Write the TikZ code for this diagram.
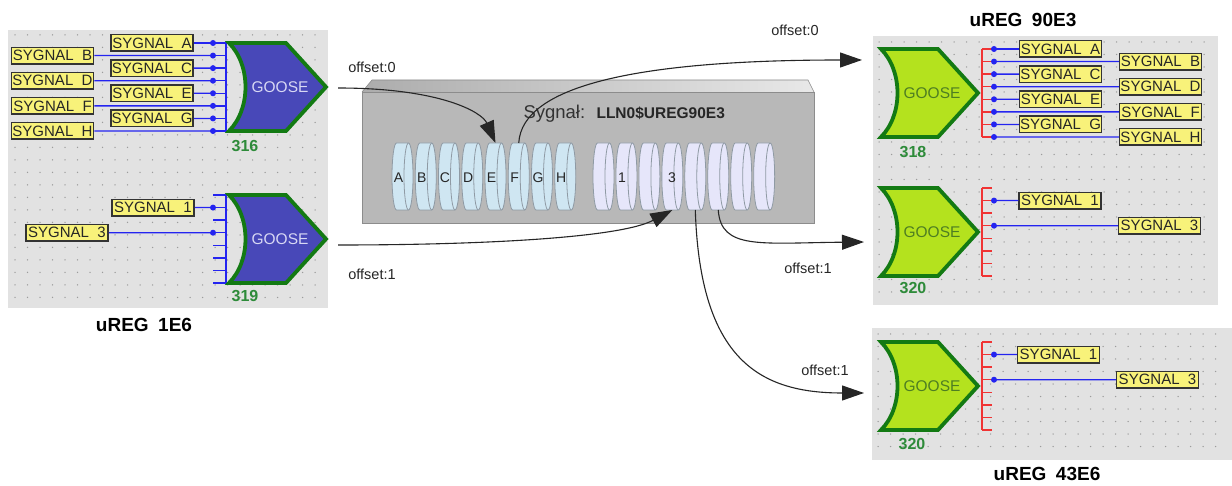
\documentclass[tikz,border=0pt]{standalone}
\usepackage{fontspec}
\setmainfont{Liberation Sans}
\usetikzlibrary{arrows.meta,calc}

\definecolor{panelbg}{HTML}{E2E2E2}
\definecolor{griddot}{HTML}{9C9C9C}
\definecolor{wireblue}{HTML}{2424F0}
\definecolor{tickred}{HTML}{F03434}
\definecolor{labelfill}{HTML}{F8F27A}
\definecolor{labeledge}{HTML}{333333}
\definecolor{gateblue}{HTML}{4848B8}
\definecolor{gatelime}{HTML}{B4E21E}
\definecolor{gateedge}{HTML}{137A13}
\definecolor{gooseblue}{HTML}{D8D8F4}
\definecolor{gooselime}{HTML}{4E7E22}
\definecolor{idgreen}{HTML}{2E8B3A}
\definecolor{boxface}{HTML}{B8B8B8}
\definecolor{boxedge}{HTML}{8C8C8C}
\definecolor{diskblue}{HTML}{CFE6F2}
\definecolor{disklav}{HTML}{E6E6FA}
\definecolor{diskedge}{HTML}{8F9AA4}

\tikzset{
  panel/.style={fill=panelbg, draw=none, inner sep=0pt, outer sep=0pt, anchor=north west},
  sig/.style={draw=labeledge, line width=1.5pt, fill=labelfill, minimum width=82pt,
    minimum height=16.5pt, inner sep=0pt, font=\fontsize{15}{15}\selectfont, text=black!85},
  wire/.style={draw=wireblue, line width=1.3pt},
  redtick/.style={draw=tickred, line width=1.3pt},
  pin/.style={circle, fill=wireblue, inner sep=0pt, minimum size=6pt},
  gateline/.style={draw=gateedge, line width=3.8pt, line join=miter},
  conn/.style={draw=black!85, line width=1.1pt, -{Triangle[length=22pt,width=15pt]}},
  offs/.style={font=\fontsize{14.5}{15}\selectfont, text=black!85},
  title/.style={font=\bfseries\fontsize{19}{19}\selectfont},
  gid/.style={font=\bfseries\fontsize{16}{16}\selectfont, text=idgreen},
  diskslot/.style={minimum width=21pt, minimum height=67pt, inner sep=0pt, outer sep=0pt},
  disk/.style={draw=diskedge, line width=0.8pt},
  disktext/.style={font=\fontsize{14}{14}\selectfont, text=black!85},
  pics/goose/.style 2 args={code={
    \draw[gateline, fill=#1] (0,0) -- (57,0) -- (97,44) -- (57,88) -- (0,88)
      .. controls (22,66) and (22,22) .. (0,0) -- cycle;
    \node[text=#2, font=\fontsize{15.5}{16}\selectfont] (-txt) at (51,44) {GOOSE};
    \coordinate (-tip) at (97,44);
  }}
}

% one storage disk: name, centre x, fill colour
\newcommand\gdisk[3]{%
  \node[diskslot] (#1) at (#2,176.5) {};
  \draw[disk, fill=#3] ($(#1.north west)+(4.5,0)$) -- ($(#1.north east)+(-4.5,0)$)
    arc[start angle=-90, end angle=90, x radius=4.5, y radius=33.5]
    -- ($(#1.south west)+(4.5,0)$)
    arc[start angle=90, end angle=270, x radius=4.5, y radius=33.5] -- cycle;
  \draw[disk] ($(#1.north east)+(-4.5,0)$)
    arc[start angle=-90, end angle=-270, x radius=4.5, y radius=33.5];
}

\begin{document}
\begin{tikzpicture}[x=1pt,y=-1pt]
\useasboundingbox (0,0) rectangle (1232,486);
\fill[white] (0,0) rectangle (1232,486);

% ---------- panels with dotted grid ----------
\node[panel, minimum width=320pt, minimum height=278pt] (pL) at (8,30) {};
\node[panel, minimum width=345pt, minimum height=269pt] (pR1) at (873,36) {};
\node[panel, minimum width=360pt, minimum height=132pt] (pR2) at (872,328) {};
\foreach \i in {0,...,24} \foreach \j in {0,...,21}
  \fill[griddot] ({15+12.5*\i},{35+12.5*\j}) circle[radius=0.75pt];
\foreach \i in {0,...,26} \foreach \j in {0,...,20}
  \fill[griddot] ({879+12.5*\i},{42+12.5*\j}) circle[radius=0.75pt];
\foreach \i in {0,...,27} \foreach \j in {0,...,9}
  \fill[griddot] ({878+12.5*\i},{334+12.5*\j}) circle[radius=0.75pt];

% ---------- central buffer box ----------
\shade[left color=gray!65, right color=gray!18] (362,92) -- (372,80) -- (808,80) -- (814,92) -- cycle;
\draw[boxedge, line width=0.6pt] (362,92) -- (372,80) -- (808,80) -- (814,92);
\node[draw=boxedge, fill=boxface, line width=0.8pt, minimum width=452pt, minimum height=131pt,
  anchor=north west, inner sep=0pt] (box) at (362,92) {};
\node[anchor=base west, font=\fontsize{18.5}{18}\selectfont, text=black!80] (sgl) at (520,119) {Sygnał:};
\node[anchor=base west, font=\bfseries\fontsize{15.5}{16}\selectfont, text=black!85] (sgn) at (593,119) {LLN0\$UREG90E3};

\foreach \n [count=\k from 0] in {A,B,C,D,E,F,G,H} {
  \gdisk{d\n}{402.5+23.25*\k}{diskblue}
  \node[disktext] at ($(d\n)+(-4,1.5)$) {\n};
}
\foreach \k in {0,...,7} {
  \gdisk{lav\k}{603.5+22.95*\k}{disklav}
}
\node[disktext] at (622,178) {1};
\node[disktext] at (672,178) {3};

% ---------- source device uREG 1E6 ----------
% gate 316
\draw[wire] (226,43) -- (226,131);
\foreach \i in {0,...,7} {
  \coordinate (p316-\i) at (213,{43+12.571*\i});
  \draw[wire] (p316-\i) -- (226,{43+12.571*\i});
}
\node[sig] (sA) at (152,43.00) {SYGNAL\ \ A};
\node[sig] (sB) at (52.5,55.57) {SYGNAL\ \ B};
\node[sig] (sC) at (152,68.14) {SYGNAL\ \ C};
\node[sig] (sD) at (52.5,80.71) {SYGNAL\ \ D};
\node[sig] (sE) at (152,93.29) {SYGNAL\ \ E};
\node[sig] (sF) at (52.5,105.86) {SYGNAL\ \ F};
\node[sig] (sG) at (152,118.43) {SYGNAL\ \ G};
\node[sig] (sH) at (52.5,131.00) {SYGNAL\ \ H};
\foreach \n [count=\k from 0] in {A,B,C,D,E,F,G,H} {
  \draw[wire] (s\n.east) -- (p316-\k);
  \node[pin] at (p316-\k) {};
}
\pic (g316) at (229,43) {goose={gateblue}{gooseblue}};
\node[gid] (id316) at (245,146) {316};

% gate 319
\draw[wire] (226,195) -- (226,283);
\foreach \i in {0,...,7} {
  \coordinate (p319-\i) at (213,{195+12.571*\i});
  \draw[wire] (p319-\i) -- (226,{195+12.571*\i});
}
\node[sig] (s1L) at (153,207.57) {SYGNAL\ \ 1};
\node[sig] (s3L) at (67,232.71) {SYGNAL\ \ 3};
\draw[wire] (s1L.east) -- (p319-1);
\draw[wire] (s3L.east) -- (p319-3);
\node[pin] at (p319-1) {};
\node[pin] at (p319-3) {};
\pic (g319) at (229,195) {goose={gateblue}{gooseblue}};
\node[gid] (id319) at (245,296) {319};

\node[title] (tL) at (144,325) {uREG\hspace{0.5em}1E6};

% ---------- receiving device uREG 90E3 ----------
\pic (g318) at (881,49) {goose={gatelime}{gooselime}};
\draw[redtick] (982,49) -- (982,137);
\foreach \i in {0,...,7} {
  \coordinate (q318-\i) at (994,{49+12.571*\i});
  \draw[redtick] (982,{49+12.571*\i}) -- (992,{49+12.571*\i});
}
\node[sig] (rA) at (1060.5,49.00) {SYGNAL\ \ A};
\node[sig] (rB) at (1160.5,61.57) {SYGNAL\ \ B};
\node[sig] (rC) at (1060.5,74.14) {SYGNAL\ \ C};
\node[sig] (rD) at (1160.5,86.71) {SYGNAL\ \ D};
\node[sig] (rE) at (1060.5,99.29) {SYGNAL\ \ E};
\node[sig] (rF) at (1160.5,111.86) {SYGNAL\ \ F};
\node[sig] (rG) at (1060.5,124.43) {SYGNAL\ \ G};
\node[sig] (rH) at (1160.5,137.00) {SYGNAL\ \ H};
\foreach \n [count=\k from 0] in {A,B,C,D,E,F,G,H} {
  \draw[wire] (q318-\k) -- (r\n.west);
  \node[pin] at (q318-\k) {};
}
\node[gid] (id318) at (913,152) {318};

\pic (g320a) at (881,188) {goose={gatelime}{gooselime}};
\draw[redtick] (982,188) -- (982,276);
\foreach \i in {0,...,7} {
  \coordinate (qa-\i) at (994,{188+12.571*\i});
  \draw[redtick] (982,{188+12.571*\i}) -- (992,{188+12.571*\i});
}
\node[sig] (ra1) at (1060,200.57) {SYGNAL\ \ 1};
\node[sig] (ra3) at (1159.5,225.71) {SYGNAL\ \ 3};
\draw[wire] (qa-1) -- (ra1.west);
\draw[wire] (qa-3) -- (ra3.west);
\node[pin] at (qa-1) {};
\node[pin] at (qa-3) {};
\node[gid] (id320a) at (913,288) {320};

\node[title] (tR1) at (1023,20) {uREG\hspace{0.5em}90E3};

% ---------- receiving device uREG 43E6 ----------
\pic (g320b) at (881,342) {goose={gatelime}{gooselime}};
\draw[redtick] (982,342) -- (982,430);
\foreach \i in {0,...,7} {
  \coordinate (qb-\i) at (994,{342+12.571*\i});
  \draw[redtick] (982,{342+12.571*\i}) -- (992,{342+12.571*\i});
}
\node[sig] (rb1) at (1058.5,354.57) {SYGNAL\ \ 1};
\node[sig] (rb3) at (1157.5,379.71) {SYGNAL\ \ 3};
\draw[wire] (qb-1) -- (rb1.west);
\draw[wire] (qb-3) -- (rb3.west);
\node[pin] at (qb-1) {};
\node[pin] at (qb-3) {};
\node[gid] (id320b) at (912,444) {320};

\node[title] (tR2) at (1047,474) {uREG\hspace{0.5em}43E6};

% ---------- mapping connectors ----------
\coordinate (o316) at ($(g316-tip)+(12,1)$);
\coordinate (o319) at ($(g319-tip)+(12,6)$);
\coordinate (in318) at (862,60);
\coordinate (in320a) at (864,242);
\coordinate (in320b) at (864,393);

\draw[conn] (o316) .. controls (440,88) and (482,112) .. (dE.north);
\draw[conn] (dF.north) .. controls (522,85) and (640,60) .. (in318);
\draw[conn] (o319) .. controls (480,245) and (620,238) .. (lav3.south);
\draw[conn] (lav4.south) .. controls (700,360) and (760,393) .. (in320b);
\draw[conn] (lav5.south) .. controls (721,250) and (760,243) .. (in320a);

\node[offs] (of1) at (372,67) {offset:0};
\node[offs] (of2) at (795,30) {offset:0};
\node[offs] (of3) at (372,274) {offset:1};
\node[offs] (of4) at (808,268) {offset:1};
\node[offs] (of5) at (825,370) {offset:1};
\end{tikzpicture}
\end{document}
